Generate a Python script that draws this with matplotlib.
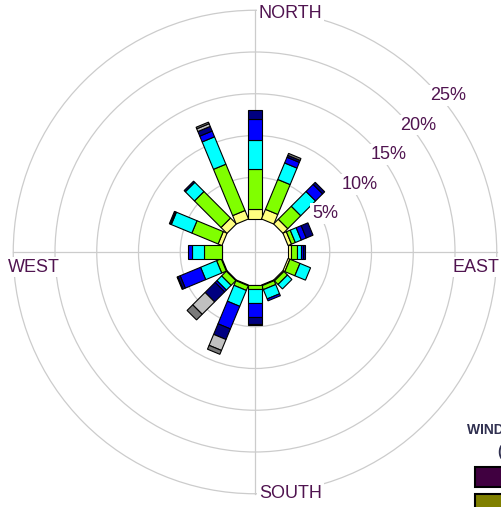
import numpy as np
import matplotlib
matplotlib.use('Agg')
import matplotlib.pyplot as plt
from matplotlib.patches import Polygon, Circle, Rectangle

plt.rcParams['font.family'] = ['Liberation Sans', 'DejaVu Sans']

# wind directions, clockwise from north
directions = ['N', 'NNE', 'NE', 'ENE', 'E', 'ESE', 'SE', 'SSE',
              'S', 'SSW', 'SW', 'WSW', 'W', 'WNW', 'NW', 'NNW']
dir_deg = [0, 22.5, 45, 67.5, 90, 112.5, 135, 157.5,
           180, 202.5, 225, 247.5, 270, 292.5, 315, 337.5]

# frequency (%) per speed class, innermost class first
sp1 = [1.15, 1.25, 0.8, 0.45, 0.32, 0.25, 0.15, 0.1, 0.05, 0.1, 0.1, 0.1, 0.05, 0.5, 1.0, 1.1]
sp2 = [4.8, 3.87, 2.2, 0.5, 0.75, 1.3, 0.6, 0.5, 0.45, 0.6, 0.8, 0.6, 2.15, 3.4, 4.5, 6.0]
sp3 = [3.57, 2.14, 2.5, 0.77, 0.44, 1.37, 0.75, 1.2, 1.6, 2.06, 0.8, 2.07, 1.35, 2.67, 1.55, 3.55]
sp4 = [2.46, 0.74, 1.2, 0.65, 0.32, 0.0, 0.0, 0.25, 1.79, 2.93, 0.3, 2.65, 0.5, 0.1, 0.0, 0.75]
sp5 = [1.07, 0.25, 0.35, 0.87, 0.24, 0.0, 0.0, 0.0, 0.79, 1.37, 1.7, 0.3, 0.0, 0.15, 0.2, 0.6]
sp6 = [0.0, 0.0, 0.0, 0.0, 0.0, 0.0, 0.0, 0.0, 0.0, 1.42, 2.1, 0.0, 0.0, 0.0, 0.0, 0.35]
sp7 = [0.0, 0.25, 0.0, 0.0, 0.0, 0.0, 0.0, 0.0, 0.12, 0.5, 0.95, 0.1, 0.0, 0.0, 0.0, 0.2]
speed_classes = [sp1, sp2, sp3, sp4, sp5, sp6, sp7]
speed_colors = ['#ffff80', '#80ff00', '#00ffff', '#0000ff', '#000080', '#c0c0c0', '#7a7a7a']

ring_values = [5, 10, 15, 20, 25]
compass_labels = ['NORTH', 'EAST', 'SOUTH', 'WEST']
legend_colors = ['#400040', '#808000']

W_PX, H_PX = 502, 507
CX, CY = 255, 252          # rose centre, pixels from top left
PX = 8.35                  # pixels per percent
HOLE = 33 / PX             # empty centre
BAR_W = 13.4 / PX
TXT = '#501450'

fig = plt.figure(figsize=(W_PX / 100, H_PX / 100), dpi=100)
ax = fig.add_axes([0, 0, 1, 1])
ax.set_xlim(-CX / PX, (W_PX - CX) / PX)
ax.set_ylim(-(H_PX - CY) / PX, CY / PX)
ax.axis('off')

# grid
R_out = HOLE + ring_values[-1]
for v in ring_values:
    ax.add_patch(Circle((0, 0), HOLE + v, fill=False, ec='#cccccc', lw=0.9, zorder=1))
ax.plot([-R_out, R_out], [0, 0], color='#cccccc', lw=0.9, zorder=1)
ax.plot([0, 0], [-R_out, R_out], color='#cccccc', lw=0.9, zorder=1)

# stacked rectangular bars
for i, deg in enumerate(dir_deg):
    th = np.deg2rad(deg)
    u = np.array([np.sin(th), np.cos(th)])
    v = np.array([np.cos(th), -np.sin(th)]) * BAR_W / 2
    r0 = HOLE
    for vals, col in zip(speed_classes, speed_colors):
        r1 = r0 + vals[i]
        if vals[i] > 0:
            pts = [u * r0 - v, u * r1 - v, u * r1 + v, u * r0 + v]
            ax.add_patch(Polygon(pts, closed=True, fc=col, ec='black', lw=0.8, zorder=3))
        r0 = r1

box = dict(boxstyle='square,pad=0.1', fc='white', ec='none')

# percent labels along the NE diagonal
for v in ring_values:
    r = HOLE + v
    ax.annotate(f'{v}%', (r * np.cos(np.pi / 4), r * np.sin(np.pi / 4)),
                xytext=(4, -14.6), textcoords='offset pixels', ha='left', va='center',
                fontsize=13, color=TXT, bbox=box, zorder=5)

# compass labels (offsets in pixels from centre)
label_pos = [(4, 238), (197, -15), (4, -241), (-247, -15)]
for name, (dx, dy) in zip(compass_labels, label_pos):
    ax.text(dx / PX, dy / PX, name, ha='left', va='center', fontsize=13,
            color=TXT, bbox=box, zorder=5)

# legend (cut off by the right edge)
fig.text(467 / W_PX, 1 - 430 / H_PX, 'WIND SPEED', ha='left', va='center',
         fontsize=10, fontweight='bold', color='#303050')
fig.text(497 / W_PX, 1 - 452 / H_PX, '(m/s)', ha='left', va='center',
         fontsize=10, fontweight='bold', color='#303050')
for k, col in enumerate(legend_colors):
    top = 467 + k * 27
    fig.patches.append(Rectangle((475 / W_PX, 1 - (top + 20) / H_PX), 40 / W_PX, 20 / H_PX,
                                 transform=fig.transFigure, fc=col, ec='black', lw=1.5))

fig.savefig('out.png', dpi=100)
